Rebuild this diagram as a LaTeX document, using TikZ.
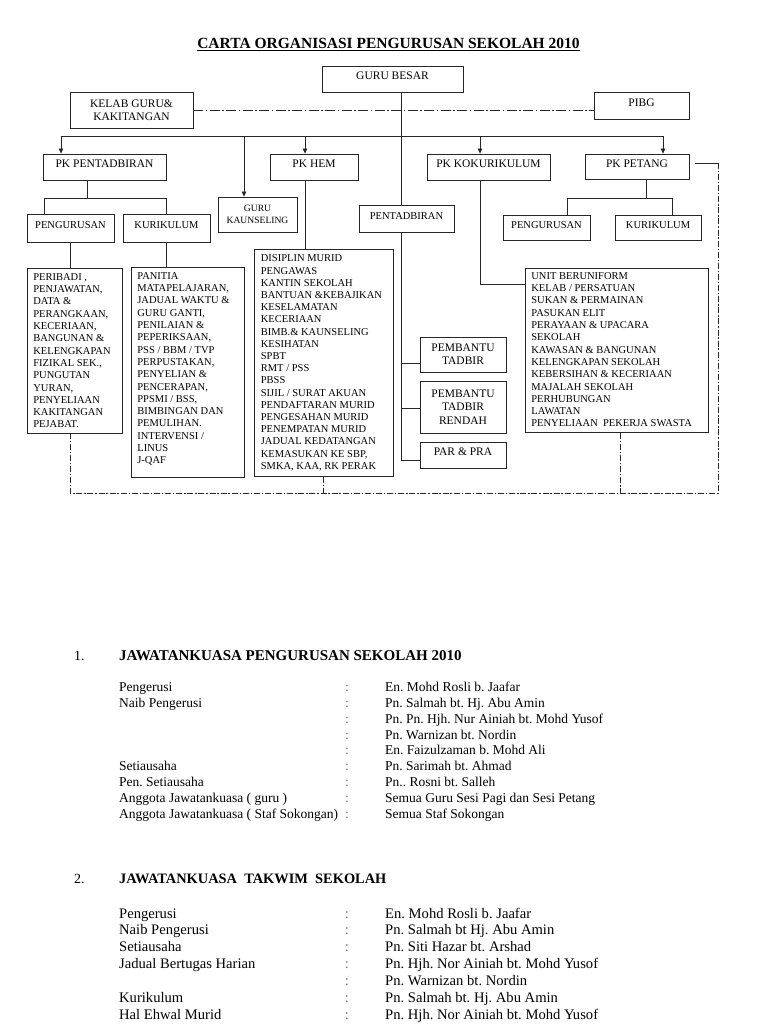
\documentclass[tikz,border=0pt]{standalone}
\usepackage{fontspec}
\setmainfont{Liberation Serif}
\usetikzlibrary{arrows.meta}
\newcommand\boxfont{\fontsize{11.5}{13.3}\selectfont}
\newcommand\smallboxfont{\fontsize{10.5}{12}\selectfont}
\newcommand\listfont{\fontsize{10.5}{12.3}\selectfont}
\frenchspacing
\begin{document}
\begin{tikzpicture}[x=1pt,y=-1pt,
  ln/.style={line width=0.8pt, draw=black!85},
  arr/.style={ln, -{Triangle[length=5pt,width=4.5pt]}},
  dd/.style={ln, dash pattern=on 6pt off 1.8pt on 1.5pt off 1.8pt},
  ddtop/.style={ln, dash pattern=on 10pt off 2.5pt on 1.5pt off 2.5pt},
  bx/.style={draw=black!85, line width=0.8pt, font=\boxfont, inner sep=0pt, text height=7.4pt, text depth=5.6pt},
  bxs/.style={bx, font=\smallboxfont},
  bxtwo/.style={draw=black!85, line width=0.8pt, font=\boxfont, inner sep=0pt, align=center},
  lst/.style={draw=black!85, line width=0.8pt, anchor=north west, inner xsep=6pt, inner ysep=0pt, font=\listfont},
  body/.style={anchor=base west, inner sep=0pt, font=\fontsize{13.5}{16}\selectfont},
  bodyb/.style={anchor=base west, inner sep=0pt, font=\fontsize{14.6}{17}\selectfont},
  colA/.style={anchor=base, inner sep=0pt, text=black!55, font=\fontsize{13.5}{16}\selectfont},
  colB/.style={anchor=base, inner sep=0pt, text=black!55, font=\fontsize{14.6}{17}\selectfont},
  hd/.style={anchor=base west, inner sep=0pt}
]
\useasboundingbox (0,0) rectangle (768,1024);

% title
\node[anchor=base, inner sep=0pt, font=\bfseries\fontsize{15.5}{18}\selectfont] (title) at (388.5,49) {\underline{CARTA ORGANISASI PENGURUSAN SEKOLAH 2010}};

% top boxes
\node[bx, minimum width=141pt, minimum height=26pt] (gb) at (392.5,79) {GURU BESAR};
\node[bxtwo, minimum width=123pt, minimum height=36pt] (kelab) at (131.5,110) {KELAB GURU\&\\KAKITANGAN};
\node[bx, minimum width=95pt, minimum height=27pt] (pibg) at (641.5,105.5) {PIBG};

\node[bx, minimum width=123pt, minimum height=26pt] (pkp) at (104.5,167) {PK PENTADBIRAN};
\node[bx, minimum width=88pt, minimum height=26pt] (pkh) at (314,167) {PK HEM};
\node[bxtwo, font=\fontsize{9.6}{11.7}\selectfont, minimum width=79pt, minimum height=35pt] (gk) at (257.5,214.5) {GURU\\KAUNSELING};
\node[bx, minimum width=123pt, minimum height=26pt] (pkk) at (488.5,167) {PK KOKURIKULUM};
\node[bx, minimum width=104pt, minimum height=25pt] (pkpt) at (637,166.5) {PK PETANG};
\node[bxs, minimum width=95pt, minimum height=27pt] (pentad) at (406.5,218.5) {PENTADBIRAN};

\node[bxs, minimum width=87pt, minimum height=28pt] (peng1) at (70.5,228) {PENGURUSAN};
\node[bxs, minimum width=87pt, minimum height=28pt] (kur1) at (166.5,228) {KURIKULUM};
\node[bxs, minimum width=87pt, minimum height=25pt] (peng2) at (546.5,227.5) {PENGURUSAN};
\node[bxs, minimum width=86pt, minimum height=25pt] (kur2) at (658,227.5) {KURIKULUM};

\node[bxtwo, minimum width=86pt, minimum height=35pt] (pt) at (463,354.5) {PEMBANTU\\TADBIR};
\node[bxtwo, minimum width=86pt, minimum height=52pt] (ptr) at (463,407) {PEMBANTU\\TADBIR\\RENDAH};
\node[bx, minimum width=86pt, minimum height=26pt] (par) at (463,455) {PAR \& PRA};

% list boxes
\node[lst] (peri) at (27,268) {\parbox[c][165pt][t]{83pt}{\vspace*{5pt}\raggedright
PERIBADI ,\\ PENJAWATAN,\\ DATA \&\\ PERANGKAAN,\\ KECERIAAN,\\ BANGUNAN \&\\ KELENGKAPAN\\ FIZIKAL SEK.,\\ PUNGUTAN\\ YURAN,\\ PENYELIAAN\\ KAKITANGAN\\ PEJABAT.}};
\node[lst] (pan) at (131,267) {\parbox[c][210pt][t]{101pt}{\vspace*{5pt}\raggedright
PANITIA\\ MATAPELAJARAN,\\ JADUAL WAKTU \&\\ GURU GANTI,\\ PENILAIAN \&\\ PEPERIKSAAN,\\ PSS / BBM / TVP\\ PERPUSTAKAN,\\ PENYELIAN \&\\ PENCERAPAN,\\ PPSMI / BSS,\\ BIMBINGAN DAN\\ PEMULIHAN.\\ INTERVENSI /\\ LINUS\\ J-QAF}};
\node[lst, inner xsep=6.5pt] (dis) at (254,249) {\parbox[c][227pt][t]{126pt}{\fontsize{10.5}{12.2}\selectfont\vspace*{5.5pt}\raggedright
DISIPLIN MURID\\ PENGAWAS\\ KANTIN SEKOLAH\\ BANTUAN \&KEBAJIKAN\\ KESELAMATAN\\ KECERIAAN\\ BIMB.\& KAUNSELING\\ KESIHATAN\\ SPBT\\ RMT / PSS\\ PBSS\\ SIJIL / SURAT AKUAN\\ PENDAFTARAN MURID\\ PENGESAHAN MURID\\ PENEMPATAN MURID\\ JADUAL KEDATANGAN\\ KEMASUKAN KE SBP,\\ SMKA, KAA, RK PERAK}};
\node[lst] (unit) at (525,268) {\parbox[c][164pt][t]{171pt}{\vspace*{4pt}\raggedright
UNIT BERUNIFORM\\ KELAB / PERSATUAN\\ SUKAN \& PERMAINAN\\ PASUKAN ELIT\\ PERAYAAN \& UPACARA\\ SEKOLAH\\ KAWASAN \& BANGUNAN\\ KELENGKAPAN SEKOLAH\\ KEBERSIHAN \& KECERIAAN\\ MAJALAH SEKOLAH\\ PERHUBUNGAN\\ LAWATAN\\ PENYELIAAN\ \ PEKERJA SWASTA}};

% coordinates
\coordinate (spine) at (401,0);
\coordinate (busL) at (61,136);
\coordinate (busR) at (663,136);
\coordinate (dk) at (244,136);
\coordinate (dh) at (305,136);
\coordinate (dko) at (480,136);
\coordinate (ppj) at (87,198);
\coordinate (ppl) at (44,198);
\coordinate (ppr) at (166,198);
\coordinate (pc) at (646,198);
\coordinate (pcl) at (567,198);
\coordinate (pcr) at (672,198);
\coordinate (b1) at (401,363);
\coordinate (b2) at (401,408);
\coordinate (spb) at (401,460);
\coordinate (kc) at (480,284);
\coordinate (pe) at (695,163);
\coordinate (rt) at (718,163);
\coordinate (rb) at (718,493);
\coordinate (lb) at (70,493);
\coordinate (dd1) at (323,493);
\coordinate (dd2) at (620,493);

% connectors
\draw[ln] (gb.south -| spine) -- (pentad.north -| spine);
\draw[ln] (busL) -- (busR);
\draw[arr] (busL) -- (pkp.north -| busL);
\draw[arr] (dk) -- (gk.north -| dk);
\draw[arr] (dh) -- (pkh.north -| dh);
\draw[arr] (dko) -- (pkk.north -| dko);
\draw[arr] (busR) -- (pkpt.north -| busR);
\draw[ddtop] (kelab.east) -- (pibg.west |- kelab.east);

\draw[ln] (pkp.south -| ppj) -- (ppj);
\draw[ln] (ppl) -- (ppr);
\draw[ln] (ppl) -- (peng1.north -| ppl);
\draw[ln] (ppr) -- (kur1.north -| ppr);
\draw[ln] (peng1.south -| lb) -- (peri.north -| lb);
\draw[ln] (kur1.south -| ppr) -- (pan.north -| ppr);

\draw[ln] (pkh.south -| dh) -- (dis.north -| dh);

\draw[ln] (pentad.south -| spine) -- (spb) -- (par.west |- spb);
\draw[ln] (b1) -- (pt.west |- b1);
\draw[ln] (b2) -- (ptr.west |- b2);

\draw[ln] (pkk.south -| dko) -- (kc) -- (unit.west |- kc);

\draw[ln] (pkpt.south -| pc) -- (pc);
\draw[ln] (pcl) -- (pcr);
\draw[ln] (pcl) -- (peng2.north -| pcl);
\draw[ln] (pcr) -- (kur2.north -| pcr);

\draw[ln] (pe) -- (rt);
\draw[dd] (rt) -- (rb) -- (lb) -- (peri.south -| lb);
\draw[dd] (dis.south -| dd1) -- (dd1);
\draw[dd] (unit.south -| dd2) -- (dd2);

% section 1
\node[hd, font=\fontsize{14}{16}\selectfont] (n1) at (74,660) {1.};
\node[hd, font=\bfseries\fontsize{15}{18}\selectfont] (h1) at (119,660) {JAWATANKUASA PENGURUSAN SEKOLAH 2010};
\node[body] (a0) at (119,691.7) {Pengerusi};
\node[body] (a1) at (119,707.5) {Naib Pengerusi};
\node[body] (a5) at (119,770.7) {Setiausaha};
\node[body] (a6) at (119,786.5) {Pen. Setiausaha};
\node[body] (a7) at (119,802.3) {Anggota Jawatankuasa ( guru )};
\node[body] (a8) at (119,818.1) {Anggota Jawatankuasa ( Staf Sokongan)};
\foreach \t [count=\i from 0] in {{En. Mohd Rosli b. Jaafar},{Pn. Salmah bt. Hj. Abu Amin},{Pn. Pn. Hjh. Nur Ainiah bt. Mohd Yusof},{Pn. Warnizan bt. Nordin},{En. Faizulzaman b. Mohd Ali},{Pn. Sarimah bt. Ahmad},{Pn.. Rosni bt. Salleh},{Semua Guru Sesi Pagi dan Sesi Petang},{Semua Staf Sokongan}}{
  \node[colA] (c1-\i) at (347,{691.7+15.8*\i}) {:};
  \node[body] (v1-\i) at (385,{691.7+15.8*\i}) {\t};
}

% section 2
\node[hd, font=\fontsize{14}{16}\selectfont] (n2) at (74,883) {2.};
\node[hd, font=\bfseries\fontsize{14.4}{17}\selectfont] (h2) at (119,883) {JAWATANKUASA\ \ TAKWIM\ \ SEKOLAH};
\node[bodyb] (b0) at (119,918) {Pengerusi};
\node[bodyb] (bb1) at (119,934.85) {Naib Pengerusi};
\node[bodyb] (bb2) at (119,951.7) {Setiausaha};
\node[bodyb] (bb3) at (119,968.55) {Jadual Bertugas Harian};
\node[bodyb] (bb5) at (119,1002.25) {Kurikulum};
\node[bodyb] (bb6) at (119,1019.1) {Hal Ehwal Murid};
\foreach \t [count=\i from 0] in {{En. Mohd Rosli b. Jaafar},{Pn. Salmah bt Hj. Abu Amin},{Pn. Siti Hazar bt. Arshad},{Pn. Hjh. Nor Ainiah bt. Mohd Yusof},{Pn. Warnizan bt. Nordin},{Pn. Salmah bt. Hj. Abu Amin},{Pn. Hjh. Nor Ainiah bt. Mohd Yusof}}{
  \node[colB] (c2-\i) at (347,{918+16.85*\i}) {:};
  \node[bodyb] (v2-\i) at (385,{918+16.85*\i}) {\t};
}
\end{tikzpicture}
\end{document}
